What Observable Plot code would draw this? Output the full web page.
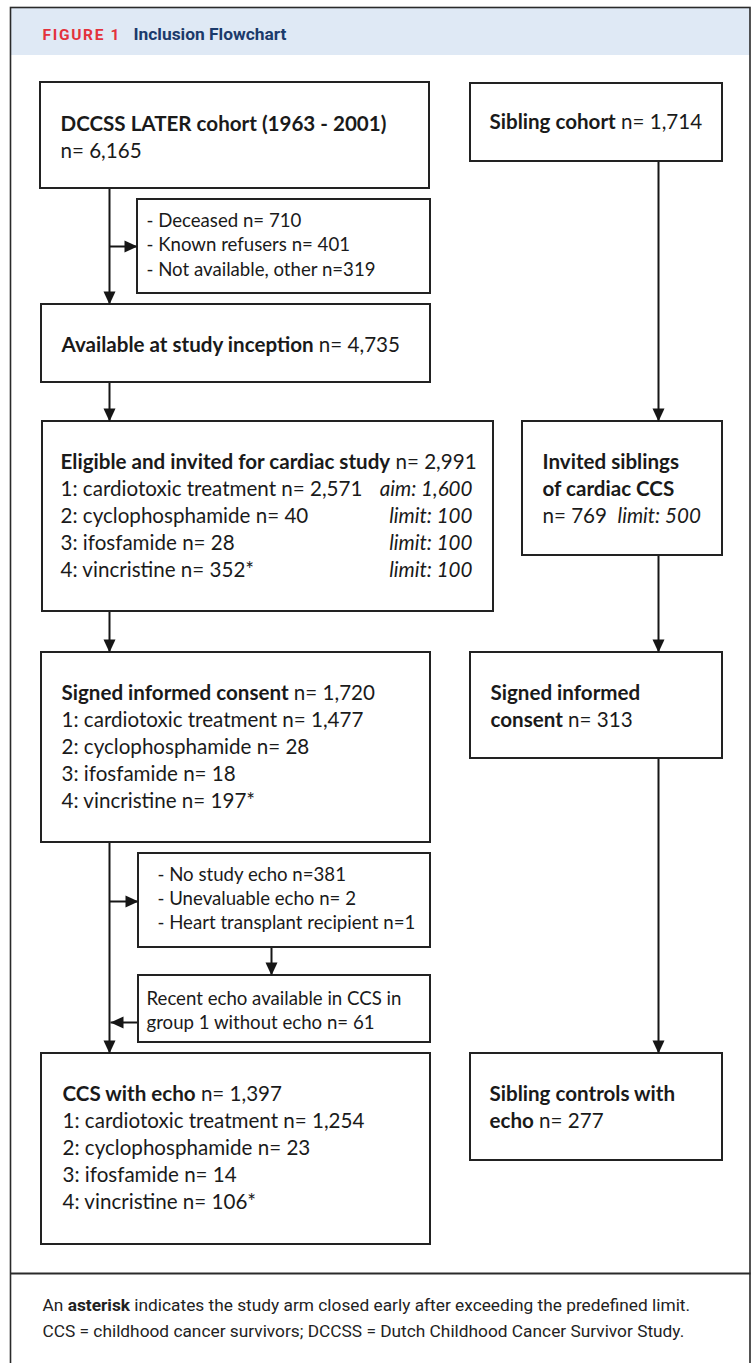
<!DOCTYPE html>
<html><head><meta charset="utf-8">
<script src="https://cdn.jsdelivr.net/npm/d3@7"></script>
<script src="https://cdn.jsdelivr.net/npm/@observablehq/plot@0.6"></script>
<style>
html,body{margin:0;padding:0;background:#fff;}
svg{display:block;}
svg text{white-space:pre;}
</style>
</head><body><div id="chart"></div>
<script>
// ---------------- data ----------------
const figureLabel = "FIGURE 1";
const figureTitle = "Inclusion Flowchart";
const survivorStages = ["DCCSS LATER cohort (1963 - 2001)", "Available at study inception", "Eligible and invited for cardiac study", "Signed informed consent", "CCS with echo"];
const survivorCounts = [6165, 4735, 2991, 1720, 1397];
const groupLabels = ["1: cardiotoxic treatment", "2: cyclophosphamide", "3: ifosfamide", "4: vincristine"];
const invitedCounts = [2571, 40, 28, 352];
const consentCounts = [1477, 28, 18, 197];
const echoCounts = [1254, 23, 14, 106];
const closedEarly = [false, false, false, true];
const groupTargets = ["aim: 1,600", "limit: 100", "limit: 100", "limit: 100"];
const siblingStageLines = [["Sibling cohort"], ["Invited siblings", "of cardiac CCS"], ["Signed informed", "consent"], ["Sibling controls with", "echo"]];
const siblingCounts = [1714, 769, 313, 277];
const siblingLimit = "limit: 500";
const inceptionExclusions = ["- Deceased n= 710", "- Known refusers n= 401", "- Not available, other n=319"];
const echoExclusions = ["- No study echo n=381", "- Unevaluable echo n= 2", "- Heart transplant recipient n=1"];
const echoAdditions = ["Recent echo available in CCS in", "group 1 without echo n= 61"];
const footnotes = ["An **asterisk** indicates the study arm closed early after exceeding the predefined limit.",
                   "CCS = childhood cancer survivors; DCCSS = Dutch Childhood Cancer Survivor Study."];

// ---------------- layout ----------------
const W = 756, H = 1363;
const frame = {x1: 10.5, x2: 750, y1: 7.5, y2: H + 10};
const headerBand = {x1: 10.5, x2: 750, y1: 7.5, y2: 55};
const footerRuleY = 1273;
const lineGap = 27;
const B = {
  cohort:    {x1: 40,  x2: 429, y1: 82,   y2: 188,  tx: 60,  ty: 130},
  excl1:     {x1: 137, x2: 430, y1: 199,  y2: 293,  tx: 146, ty: 226, gap: 24.5},
  inception: {x1: 41,  x2: 430, y1: 304,  y2: 382,  tx: 61,  ty: 351},
  eligible:  {x1: 42,  x2: 493, y1: 421,  y2: 611,  tx: 60,  ty: 468, rx: 472},
  consent:   {x1: 41,  x2: 430, y1: 652,  y2: 842,  tx: 61,  ty: 699},
  excl2:     {x1: 138, x2: 430, y1: 853,  y2: 947,  tx: 157, ty: 880, gap: 24},
  add:       {x1: 138, x2: 430, y1: 975,  y2: 1042, tx: 146, ty: 1004, gap: 24},
  echo:      {x1: 41,  x2: 430, y1: 1053, y2: 1244, tx: 62,  ty: 1100},
  sib0:      {x1: 470, x2: 722, y1: 83,   y2: 161,  tx: 489, ty: 128},
  sib1:      {x1: 522, x2: 722, y1: 421,  y2: 555,  tx: 542, ty: 468},
  sib2:      {x1: 470, x2: 722, y1: 652,  y2: 758,  tx: 490, ty: 699},
  sib3:      {x1: 470, x2: 722, y1: 1053, y2: 1160, tx: 489, ty: 1100}
};
const LX = 109, RX = 658;
const connectors = [
  {x1: LX, y1: B.cohort.y2, x2: LX, y2: B.inception.y1, dir: "down"},
  {x1: LX, y1: 246, x2: B.excl1.x1, y2: 246, dir: "right"},
  {x1: LX, y1: B.inception.y2, x2: LX, y2: B.eligible.y1, dir: "down"},
  {x1: LX, y1: B.eligible.y2, x2: LX, y2: B.consent.y1, dir: "down"},
  {x1: LX, y1: B.consent.y2, x2: LX, y2: B.echo.y1, dir: "down"},
  {x1: LX, y1: 901, x2: B.excl2.x1, y2: 901, dir: "right"},
  {x1: 271, y1: B.excl2.y2, x2: 271, y2: B.add.y1, dir: "down"},
  {x1: B.add.x1, y1: 1022, x2: LX + 1, y2: 1022, dir: "left"},
  {x1: RX, y1: B.sib0.y2, x2: RX, y2: B.sib1.y1, dir: "down"},
  {x1: RX, y1: B.sib1.y2, x2: RX, y2: B.sib2.y1, dir: "down"},
  {x1: RX, y1: B.sib2.y2, x2: RX, y2: B.sib3.y1, dir: "down"}
];

// ---------------- text fitting ----------------
const ctx = document.createElement("canvas").getContext("2d");
function fit(text, width, family, weight = "normal", style = "normal") {
  ctx.font = `${style} ${weight} 100px ${family}`;
  return 100 * width / ctx.measureText(text).width;
}
const BODY_FONT = "Lato";
const SIDE_FONT = "Roboto";
const bodySize = fit("1: cardiotoxic treatment n= 1,477", 302, BODY_FONT);
const noteSize = fit("- Heart transplant recipient n=1", 258, BODY_FONT);
const footSize = fit(footnotes[1], 642, SIDE_FONT);
const titleSize = Math.max(15.5, fit(figureTitle, 153, SIDE_FONT, "bold"));
const labelSize = 15.5;
ctx.font = `bold ${labelSize}px ${SIDE_FONT}`;
const labelSpacing = Math.max(0.5, (77 - ctx.measureText(figureLabel).width) / (figureLabel.length - 1));

// ---------------- build text lines ----------------
const fmt = d3.format(",");
const lines = [];
const notes = [];
const targets = [];
const push = (b, i, text, gap = lineGap, arr = lines) => arr.push({x: b.tx, y: b.ty + i * gap, text});

push(B.cohort, 0, `**${survivorStages[0]}**`);
push(B.cohort, 1, `n= ${fmt(survivorCounts[0])}`);
push(B.inception, 0, `**${survivorStages[1]}** n= ${fmt(survivorCounts[1])}`);
[[B.eligible, 2, invitedCounts], [B.consent, 3, consentCounts], [B.echo, 4, echoCounts]].forEach(([b, s, counts]) => {
  push(b, 0, `**${survivorStages[s]}** n= ${fmt(survivorCounts[s])}`);
  groupLabels.forEach((g, i) => push(b, i + 1, `${g} n= ${fmt(counts[i])}${closedEarly[i] ? "*" : ""}`));
});
groupTargets.forEach((t, i) => targets.push({x: B.eligible.rx, y: B.eligible.ty + (i + 1) * lineGap, text: t}));
inceptionExclusions.forEach((t, i) => push(B.excl1, i, t, B.excl1.gap, notes));
echoExclusions.forEach((t, i) => push(B.excl2, i, t, B.excl2.gap, notes));
echoAdditions.forEach((t, i) => push(B.add, i, t, B.add.gap, notes));
[B.sib0, B.sib1, B.sib2, B.sib3].forEach((b, k) => {
  const st = siblingStageLines[k];
  if (k === 1) {
    st.forEach((s, i) => push(b, i, `**${s}**`));
    push(b, st.length, `n= ${fmt(siblingCounts[k])}  __${siblingLimit}__`);
  } else {
    st.forEach((s, i) => push(b, i, i === st.length - 1 ? `**${s}** n= ${fmt(siblingCounts[k])}` : `**${s}**`));
  }
});

// arrowhead symbols (tip at origin)
const headL = 13, headW = 6;
const mkHead = (dx, dy) => ({draw(c) {
  c.moveTo(0, 0);
  c.lineTo(-dx * headL - dy * headW, -dy * headL + dx * headW);
  c.lineTo(-dx * headL + dy * headW, -dy * headL - dx * headW);
  c.closePath();
}});
const heads = {down: mkHead(0, 1), right: mkHead(1, 0), left: mkHead(-1, 0)};
const tips = connectors.map(c => ({x: c.x2, y: c.y2, dir: c.dir}));

const INK = "#161616";
const chart = Plot.plot({
  width: W, height: H, margin: 0,
  x: {domain: [0, W], range: [0, W], axis: null},
  y: {domain: [0, H], range: [0, H], axis: null},
  style: {background: "#fff", overflow: "hidden"},
  marks: [
    Plot.rect([headerBand], {x1: "x1", x2: "x2", y1: "y1", y2: "y2", fill: "#dfe9f5"}),
    Plot.rect([frame], {x1: "x1", x2: "x2", y1: "y1", y2: "y2", fill: "none", stroke: "#2a2a2a", strokeWidth: 1.6}),
    Plot.link([{x1: frame.x1, x2: frame.x2, y: footerRuleY}], {x1: "x1", x2: "x2", y1: "y", y2: "y", stroke: "#2a2a2a", strokeWidth: 1.8}),
    Plot.text([figureLabel], {x: () => 42, y: () => 39, text: d => d, textAnchor: "start", lineAnchor: "bottom", fontFamily: SIDE_FONT, fontWeight: "bold", fontSize: labelSize, fill: "#e3323c"}),
    Plot.text([figureTitle], {x: () => 133, y: () => 39, text: d => d, textAnchor: "start", lineAnchor: "bottom", fontFamily: SIDE_FONT, fontWeight: "bold", fontSize: titleSize, fill: "#1b3a6b"}),
    Plot.link(connectors, {x1: "x1", y1: "y1", x2: "x2", y2: "y2", stroke: INK, strokeWidth: 2}),
    Plot.rect(Object.values(B), {x1: "x1", x2: "x2", y1: "y1", y2: "y2", fill: "#fff", stroke: "#222", strokeWidth: 2}),
    ...Object.keys(heads).map(k => Plot.dot(tips.filter(t => t.dir === k), {x: "x", y: "y", r: 6, symbol: heads[k], fill: INK, stroke: "none"})),
    Plot.text(lines, {x: "x", y: "y", text: "text", textAnchor: "start", lineAnchor: "bottom", fontFamily: BODY_FONT, fontSize: bodySize, fill: "#1a1a1a"}),
    Plot.text(notes, {x: "x", y: "y", text: "text", textAnchor: "start", lineAnchor: "bottom", fontFamily: BODY_FONT, fontSize: noteSize, fill: "#1a1a1a"}),
    Plot.text(targets, {x: "x", y: "y", text: "text", textAnchor: "end", lineAnchor: "bottom", fontFamily: BODY_FONT, fontStyle: "italic", fontSize: bodySize, fill: "#1a1a1a"}),
    Plot.text(footnotes, {x: () => 42, y: (d, i) => 1310 + i * 26, text: d => d, textAnchor: "start", lineAnchor: "bottom", fontFamily: SIDE_FONT, fontSize: footSize, fill: "#222"})
  ]
});

// rich text: **bold** and __italic__ spans
chart.querySelectorAll("text").forEach(t => {
  const s = t.textContent;
  if (s === figureLabel) t.style.letterSpacing = labelSpacing + "px";
  if (!/\*\*|__/.test(s)) return;
  t.textContent = "";
  s.split(/(\*\*.+?\*\*|__.+?__)/).forEach(part => {
    if (!part) return;
    const ts = document.createElementNS("http://www.w3.org/2000/svg", "tspan");
    if (part.startsWith("**")) { ts.setAttribute("font-weight", "bold"); part = part.slice(2, -2); }
    else if (part.startsWith("__")) { ts.setAttribute("font-style", "italic"); part = part.slice(2, -2); }
    ts.textContent = part;
    t.appendChild(ts);
  });
});
document.getElementById("chart").appendChild(chart);
</script></body></html>
